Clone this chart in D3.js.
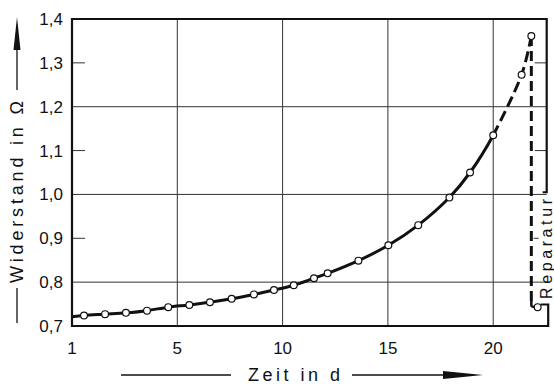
<!DOCTYPE html>
<html>
<head>
<meta charset="utf-8">
<script src="https://cdn.jsdelivr.net/npm/d3@7"></script>
<style>
  body { margin: 0; background: #fff; }
  text { font-family: "Liberation Sans", Arial, sans-serif; fill: #111; }
</style>
</head>
<body>
<div id="chart"></div>
<script>
// measured points (x in scale units: left edge = day "1", 21.06 px per day)
const days = [0.57, 1.57, 2.56, 3.56, 4.57, 5.57, 6.55, 7.58, 8.64, 9.59, 10.53, 11.49,
              12.14, 13.6, 15.02, 16.44, 17.92, 18.9, 20.0, 21.35, 21.81];
const widerstand = [0.724, 0.727, 0.730, 0.735, 0.743, 0.748, 0.754, 0.762, 0.772, 0.782,
                    0.793, 0.809, 0.820, 0.849, 0.884, 0.930, 0.993, 1.050, 1.135, 1.273, 1.361];
const startValue = 0.721;        // curve at left edge
const dashFrom = 18;             // index where dashed part begins
const afterRepair = { day: 22.11, value: 0.743 };

const xTicks = [0, 5, 10, 15, 20];
const xTickLabels = ["1", "5", "10", "15", "20"];
const yTicks = [0.7, 0.8, 0.9, 1.0, 1.1, 1.2, 1.3, 1.4];
const yGrid = [0.8, 1.0, 1.2];
const yMinor = [0.9, 1.1, 1.3];

const W = 554, H = 385;
const pLeft = 72, pTop = 19, pRight = 546.7, pBottom = 326;

const svg = d3.select("#chart").append("svg")
    .attr("width", W).attr("height", H);

const x = d3.scaleLinear().domain([0, 22.54]).range([pLeft, pRight]);
const y = d3.scaleLinear().domain([0.7, 1.4]).range([pBottom, pTop]);

// grid
svg.selectAll(".vgrid").data(xTicks.slice(1)).enter().append("line")
    .attr("x1", d => x(d)).attr("x2", d => x(d))
    .attr("y1", pTop).attr("y2", pBottom)
    .attr("stroke", "#333").attr("stroke-width", 1);

svg.selectAll(".hgrid").data(yGrid).enter().append("line")
    .attr("x1", pLeft).attr("x2", pRight)
    .attr("y1", d => y(d)).attr("y2", d => y(d))
    .attr("stroke", "#333").attr("stroke-width", 1);

// short ticks
svg.selectAll(".lt").data(yMinor).enter().append("line")
    .attr("x1", pLeft).attr("x2", pLeft + 13)
    .attr("y1", d => y(d)).attr("y2", d => y(d))
    .attr("stroke", "#333").attr("stroke-width", 1);
svg.selectAll(".rt").data([1.1, 1.3]).enter().append("line")
    .attr("x1", pRight - 12).attr("x2", pRight)
    .attr("y1", d => y(d)).attr("y2", d => y(d))
    .attr("stroke", "#333").attr("stroke-width", 1);
svg.append("line")
    .attr("x1", pRight - 13).attr("x2", pRight - 8)
    .attr("y1", y(0.9)).attr("y2", y(0.9))
    .attr("stroke", "#333").attr("stroke-width", 1);

// frame
svg.append("path")
    .attr("d", `M${pRight - 4},${y(1.005)} H${pRight} V${pTop} H${pLeft} V${pBottom} H${pRight + 1.5} V${y(0.749)} H${pRight - 6}`)
    .attr("fill", "none").attr("stroke", "#111").attr("stroke-width", 2.2);

// tick labels
svg.selectAll(".yl").data(yTicks).enter().append("text")
    .attr("x", 63).attr("y", d => y(d) + 6)
    .attr("text-anchor", "end").attr("font-size", 17)
    .text(d => d.toFixed(1).replace(".", ","));

svg.selectAll(".xl").data(xTicks).enter().append("text")
    .attr("x", (d, i) => x(d)).attr("y", 354)
    .attr("text-anchor", "middle").attr("font-size", 17)
    .text((d, i) => xTickLabels[i]);

// curve: one smooth path, solid before the dash point, dashed after (via clips)
const pts = days.map((d, i) => [d, widerstand[i]]);
const line = d3.line().x(d => x(d[0])).y(d => y(d[1])).curve(d3.curveCatmullRom.alpha(0.5));
const fullCurve = line([[0, startValue]].concat(pts));
const xSplit = x(days[dashFrom]);

const defs = svg.append("defs");
defs.append("clipPath").attr("id", "clipSolid").append("rect")
    .attr("x", 0).attr("y", 0).attr("width", xSplit).attr("height", H);
defs.append("clipPath").attr("id", "clipDash").append("rect")
    .attr("x", xSplit).attr("y", 0).attr("width", W - xSplit).attr("height", H);

svg.append("path")
    .attr("d", fullCurve).attr("clip-path", "url(#clipSolid)")
    .attr("fill", "none").attr("stroke", "#111").attr("stroke-width", 3);

svg.append("path")
    .attr("d", line(pts.slice(dashFrom)))
    .attr("fill", "none").attr("stroke", "#111").attr("stroke-width", 3)
    .attr("stroke-dasharray", "11,5");

// repair drop
const topPt = pts[pts.length - 1];
svg.append("line")
    .attr("x1", x(topPt[0])).attr("x2", x(topPt[0]))
    .attr("y1", y(topPt[1])).attr("y2", y(0.757))
    .attr("stroke", "#111").attr("stroke-width", 3)
    .attr("stroke-dasharray", "10,5");
svg.append("path")
    .attr("d", `M${x(topPt[0])},${y(0.757)} V${y(afterRepair.value) - 2} Q${x(topPt[0])},${y(afterRepair.value)} ${x(afterRepair.day)},${y(afterRepair.value)}`)
    .attr("fill", "none").attr("stroke", "#111").attr("stroke-width", 2.5);

// markers
svg.selectAll(".pt").data(pts.concat([[afterRepair.day, afterRepair.value]])).enter().append("circle")
    .attr("cx", d => x(d[0])).attr("cy", d => y(d[1])).attr("r", 3.4)
    .attr("fill", "#fff").attr("stroke", "#111").attr("stroke-width", 1.2);

// Reparatur label
svg.append("text")
    .attr("transform", "translate(551.5,249) rotate(-90)")
    .attr("text-anchor", "middle").attr("font-size", 16)
    .attr("textLength", 100).attr("lengthAdjust", "spacing")
    .text("Reparatur");

// x axis title with arrow
svg.append("text")
    .attr("x", 248).attr("y", 381)
    .attr("font-size", 18)
    .attr("textLength", 92).attr("lengthAdjust", "spacing")
    .text("Zeit  in  d");
svg.append("line")
    .attr("x1", 121).attr("x2", 231).attr("y1", 375).attr("y2", 375)
    .attr("stroke", "#111").attr("stroke-width", 1.3);
svg.append("line")
    .attr("x1", 352).attr("x2", 450).attr("y1", 375).attr("y2", 375)
    .attr("stroke", "#111").attr("stroke-width", 1.3);
svg.append("path")
    .attr("d", "M443,371 L483,375 L443,379 Z").attr("fill", "#111");

// y axis title with arrow
svg.append("text")
    .attr("transform", "translate(23,283) rotate(-90)")
    .attr("font-size", 18)
    .attr("textLength", 182).attr("lengthAdjust", "spacing")
    .text("Widerstand  in  Ω");
svg.append("line")
    .attr("x1", 17).attr("x2", 17).attr("y1", 288).attr("y2", 323)
    .attr("stroke", "#111").attr("stroke-width", 1.3);
svg.append("line")
    .attr("x1", 17).attr("x2", 17).attr("y1", 90).attr("y2", 45)
    .attr("stroke", "#111").attr("stroke-width", 1.3);
svg.append("path")
    .attr("d", "M13.5,50 L17,17 L20.5,50 Z").attr("fill", "#111");
</script>
</body>
</html>
